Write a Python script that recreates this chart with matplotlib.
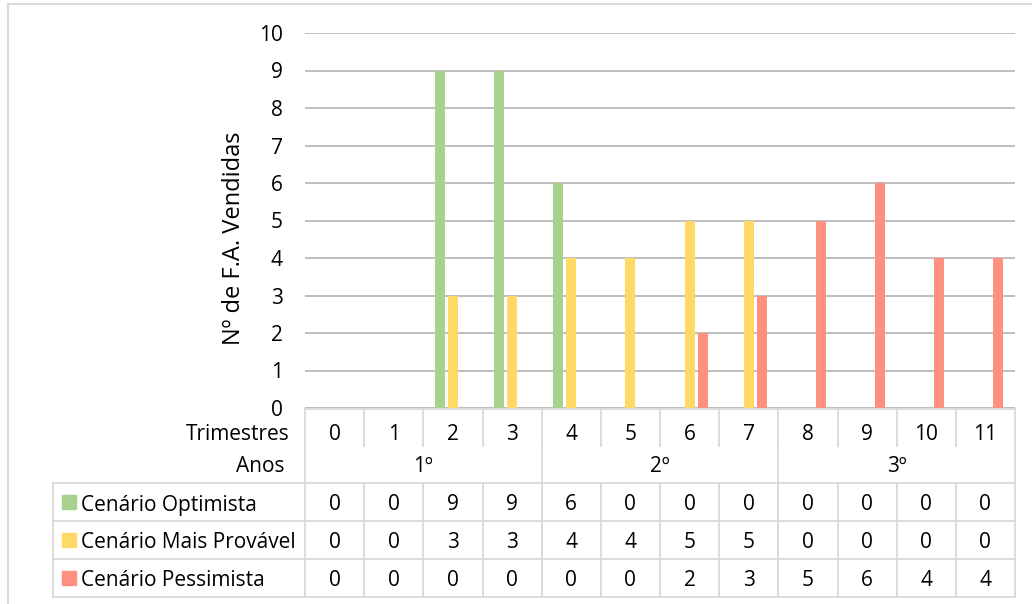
import matplotlib.pyplot as plt
import matplotlib.transforms as mtransforms
from matplotlib.patches import Rectangle

plt.rcParams['font.family'] = ['Open Sans', 'DejaVu Sans']

trimestres = ['0', '1', '2', '3', '4', '5', '6', '7', '8', '9', '10', '11']
anos = ['1º', '2º', '3º']
series_names = ['Cenário Optimista', 'Cenário Mais Provável', 'Cenário Pessimista']
optimista = [0, 0, 9, 9, 6, 0, 0, 0, 0, 0, 0, 0]
provavel = [0, 0, 3, 3, 4, 4, 5, 5, 0, 0, 0, 0]
pessimista = [0, 0, 0, 0, 0, 0, 2, 3, 5, 6, 4, 4]
colors = ['#A9D18E', '#FFD966', '#FF8F80']

W, H = 1032, 604
fig = plt.figure(figsize=(W / 100, H / 100), dpi=100)

def fx(px):
    return px / W

def fy(py):
    return 1 - py / H

# main bar area
ax = fig.add_axes([fx(305), fy(408), fx(1015) - fx(305), fy(33) - fy(408)])
n = len(trimestres)
x = list(range(n))
offsets = [-0.22, 0, 0.22]
for vals, off, c in zip([optimista, provavel, pessimista], offsets, colors):
    ax.bar([i + off for i in x], vals, width=0.17, color=c, zorder=3)

ax.set_xlim(-0.5, n - 0.5)
ax.set_ylim(0, 10)
ax.set_yticks(range(0, 11))
ax.set_xticks([])
ax.grid(axis='y', color='#b3b3b3', linewidth=1.2, zorder=0)
for s in ax.spines.values():
    s.set_visible(False)
ax.tick_params(axis='y', length=0, pad=16, labelsize=15, labelcolor='#000000')

fig.text(fx(234), fy(238), 'Nº de F.A. Vendidas', rotation=90, ha='center', va='center',
         fontsize=17, color='#000000')

# data table
tr = mtransforms.blended_transform_factory(ax.transData, fig.transFigure)
line_c = '#d9d9d9'
lw = 1.3
left_edge, right_edge = -0.5, n - 0.5

def hline(y, x0, x1, transform=tr):
    fig.add_artist(plt.Line2D([x0, x1], [fy(y), fy(y)], transform=transform, color=line_c, lw=lw))

def vline(xv, y0, y1, transform=tr):
    fig.add_artist(plt.Line2D([xv, xv], [fy(y0), fy(y1)], transform=transform, color=line_c, lw=lw))

hline(409, left_edge, right_edge)
# separators in Trimestres row
for i in range(1, n):
    vline(i - 0.5, 409, 446)
# year boundaries
for k in range(1, len(anos)):
    vline(4 * k - 0.5, 446, 597)
vline(left_edge, 409, 597)
vline(right_edge, 409, 597)

row_y = [483, 521, 559, 597]
ftr = fig.transFigure
for yv in row_y:
    fig.add_artist(plt.Line2D([fx(53), fx(305)], [fy(yv), fy(yv)], transform=ftr, color=line_c, lw=lw))
    hline(yv, left_edge, right_edge)
fig.add_artist(plt.Line2D([fx(53), fx(53)], [fy(483), fy(597)], transform=ftr, color=line_c, lw=lw))
for i in range(1, n):
    vline(i - 0.5, 483, 597)

fs = 15
dy = 3  # text sits a bit low in its cell
for i, t in enumerate(trimestres):
    fig.text(i, fy(431 + dy), t, transform=tr, ha='center', va='center', fontsize=fs)
fig.text(fx(290), fy(431 + dy), 'Trimestres', ha='right', va='center', fontsize=fs)
fig.text(fx(285), fy(463 + dy), 'Anos', ha='right', va='center', fontsize=fs)
for k, a in enumerate(anos):
    fig.text(4 * k + 1.5, fy(463 + dy), a, transform=tr, ha='center', va='center', fontsize=fs)

for r, (name, vals, c) in enumerate(zip(series_names, [optimista, provavel, pessimista], colors)):
    yc = (row_y[r] + row_y[r + 1]) / 2
    fig.add_artist(Rectangle((fx(62), fy(yc + 7)), fx(14), 14 / H, transform=ftr, color=c))
    fig.text(fx(81), fy(yc + dy), name, ha='left', va='center', fontsize=fs)
    for i, v in enumerate(vals):
        fig.text(i, fy(yc + dy), str(v), transform=tr, ha='center', va='center', fontsize=fs)

# chart frame
fig.add_artist(plt.Line2D([fx(8), 1], [fy(4), fy(4)], transform=ftr, color=line_c, lw=1.5))
fig.add_artist(plt.Line2D([fx(8), fx(8)], [fy(4), 0], transform=ftr, color=line_c, lw=1.5))

fig.savefig('out.png', dpi=100)
